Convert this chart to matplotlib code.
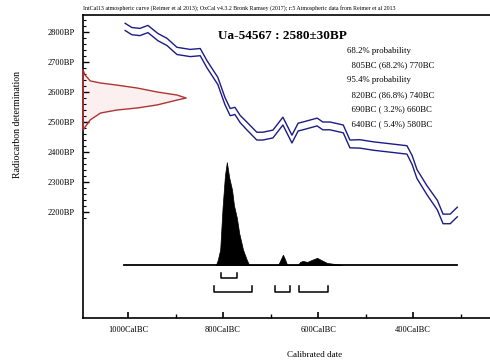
import matplotlib.pyplot as plt
import matplotlib as mpl
import numpy as np
from matplotlib.ticker import FixedLocator

# calibration curve (IntCal13 section), cal years BC -> BP, 1 sigma half width
cal_bc = [1006, 992, 975, 958, 937, 918, 897, 869, 848, 834, 811, 796, 785,
          775, 764, 750, 729, 716, 695, 674, 655, 642, 632, 602, 590, 575,
          547, 533, 512, 484, 413, 402, 392, 371, 349, 337, 322, 307]
cal_bp = [2817, 2803, 2800, 2810, 2783, 2767, 2737, 2730, 2733, 2693, 2637,
          2570, 2533, 2537, 2510, 2487, 2453, 2453, 2460, 2503, 2443, 2483,
          2487, 2500, 2487, 2487, 2477, 2427, 2427, 2420, 2407, 2373, 2327,
          2273, 2223, 2177, 2177, 2200]
cal_err = [12, 12, 12, 12, 12, 12, 12, 12, 12, 12, 12, 12, 12,
           12, 12, 13, 13, 13, 13, 13, 13, 13, 13, 13, 13, 13,
           13, 13, 14, 14, 14, 15, 15, 15, 16, 16, 16, 16]

meas_bp = [2673, 2657, 2637, 2630, 2623, 2613, 2600, 2590, 2580,
           2573, 2557, 2547, 2540, 2530, 2507, 2483, 2473]
meas_p = [0.0, 0.02, 0.07, 0.17, 0.33, 0.53, 0.72, 0.91, 1.0,
          0.91, 0.72, 0.53, 0.33, 0.17, 0.07, 0.02, 0.0]

# calibrated probability distribution (relative)
post_bc = [815, 811, 806, 801, 796, 792, 787, 781, 777, 771, 766, 758, 750, 745,
           684, 678, 674, 670, 665,
           642, 638, 632, 623, 613, 602, 594, 581, 564, 550]
post_p = [0.0, 0.05, 0.15, 0.56, 0.87, 1.0, 0.85, 0.73, 0.58, 0.46, 0.31, 0.15, 0.05, 0.0,
          0.0, 0.06, 0.10, 0.06, 0.0,
          0.0, 0.03, 0.04, 0.03, 0.05, 0.07, 0.05, 0.02, 0.01, 0.0]

# highest probability ranges
r68 = [(805, 770)]
r95 = [(820, 740), (690, 660), (640, 580)]

xticks = [1000, 800, 600, 400]
xminor = [900, 700, 500, 300]
yticks = [2200, 2300, 2400, 2500, 2600, 2700, 2800]

header = ('IntCal13 atmospheric curve (Reimer et al 2013); OxCal v4.3.2 '
          'Bronk Ramsey (2017); r:5 Atmospheric data from Reimer et al 2013')
prob_lines = ['68.2% probability', '  805BC (68.2%) 770BC',
              '95.4% probability', '  820BC (86.8%) 740BC',
              '  690BC ( 3.2%) 660BC', '  640BC ( 5.4%) 580BC']


def main():
    mpl.rcParams['font.family'] = ['Liberation Serif', 'DejaVu Serif']

    fig = plt.figure(figsize=(4.9, 3.64), dpi=100)
    ax = fig.add_axes([83/490, 46/364, 409/490, 303/364])
    xlo, xhi = -1094.7, -234.0
    ylo, yhi = 1846.7, 2856.7
    ax.set_xlim(xlo, xhi)
    ax.set_ylim(ylo, yhi)

    # calibration curve envelope
    x = -np.array(cal_bc)
    c = np.array(cal_bp)
    e = np.array(cal_err)
    ax.plot(x, c + e, color='#1c1c86', lw=1.0)
    ax.plot(x, c - e, color='#1c1c86', lw=1.0)

    # measurement on the y axis
    mw = 217  # peak width in cal years
    mx = xlo + mw * np.array(meas_p)
    ax.fill_betweenx(meas_bp, xlo, mx, color='#fcefef', lw=0)
    ax.plot(mx, meas_bp, color='#b03434', lw=1.0, clip_on=False)
    ax.plot([xlo, xlo], [meas_bp[0], meas_bp[-1]], color='#b03434', lw=1.2,
            clip_on=False, zorder=5)

    # posterior distribution
    base = 2023.3
    ph = 343
    ax.plot([-1008, -307], [base, base], color='black', lw=1.3)
    ax.fill_between(-np.array(post_bc), base, base + ph * np.array(post_p),
                    color='black', lw=0.5)

    # range brackets
    bh = 19
    for y0, ranges in [(1979, r68), (1934, r95)]:
        for a, b in ranges:
            ax.plot([-a, -a, -b, -b], [y0 + bh, y0, y0, y0 + bh],
                    color='black', lw=1.1)

    # axes styling
    for s in ['top', 'left', 'bottom', 'right']:
        ax.spines[s].set_linewidth(1.2)
    ax.xaxis.set_major_locator(FixedLocator([-v for v in xticks]))
    ax.xaxis.set_minor_locator(FixedLocator([-v for v in xminor]))
    ax.set_xticklabels([f'{v}CalBC' for v in xticks])
    ax.yaxis.set_major_locator(FixedLocator(yticks))
    ax.yaxis.set_minor_locator(FixedLocator(list(range(2180, 2860, 20))))
    ax.set_yticklabels([f'{v}BP' for v in yticks])
    ax.tick_params(axis='x', which='major', direction='in', length=4.5,
                   width=1.2, labelsize=6, pad=6, top=False)
    ax.tick_params(axis='x', which='minor', direction='in', length=3,
                   width=1.0, top=False)
    ax.tick_params(axis='y', which='major', direction='in', length=4.5,
                   width=1.0, labelsize=6, pad=6, right=False)
    ax.tick_params(axis='y', which='minor', direction='in', length=2.2,
                   width=0.8, right=False)

    ax.text(0.33, 0.922, 'Ua-54567 : 2580±30BP', transform=ax.transAxes,
            fontsize=9.5, fontweight='bold')
    for i, line in enumerate(prob_lines):
        ax.text(0.645, 0.882 - i * 0.0485, line, transform=ax.transAxes,
                fontsize=6.3, va='center')

    fig.text(83/490, 1 - 8/364, header, fontsize=4.2, va='center')
    fig.text(315/490, 1 - 355/364, 'Calibrated date', fontsize=6.5,
             ha='center', va='center')
    fig.text(17/490, 1 - 125/364, 'Radiocarbon determination', fontsize=7,
             rotation=90, ha='center', va='center')

    plt.savefig('out.png', dpi=100)


if __name__ == '__main__':
    main()
